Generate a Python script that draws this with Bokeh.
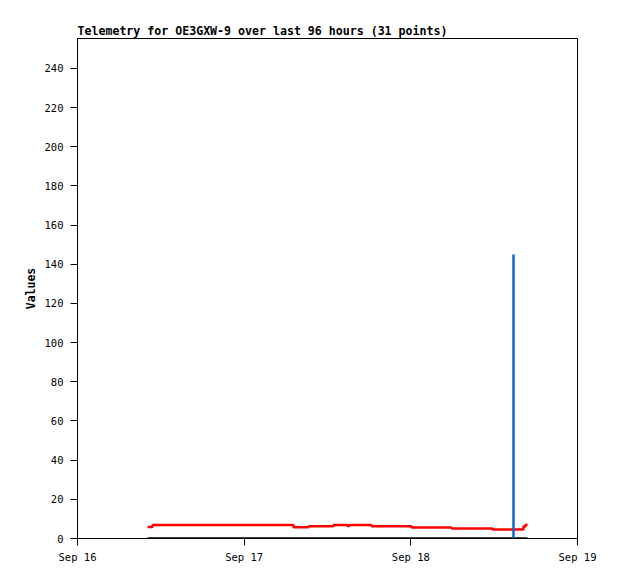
from datetime import datetime
from bokeh.plotting import figure
from bokeh.models import FixedTicker, DatetimeTickFormatter, Range1d, ColumnDataSource
from bokeh.embed import file_html
from bokeh.resources import INLINE

TITLE = "Telemetry for OE3GXW-9 over last 96 hours (31 points)"
Y_LABEL = "Values"

times = [
    "2024-09-16 10:05", "2024-09-16 10:48", "2024-09-16 12:40", "2024-09-16 14:32",
    "2024-09-16 16:25", "2024-09-16 18:17", "2024-09-16 20:10", "2024-09-16 22:02",
    "2024-09-16 23:54", "2024-09-17 01:47", "2024-09-17 03:39", "2024-09-17 05:23",
    "2024-09-17 07:06", "2024-09-17 09:16", "2024-09-17 10:59", "2024-09-17 12:52",
    "2024-09-17 14:53", "2024-09-17 15:10", "2024-09-17 16:45", "2024-09-17 18:20",
    "2024-09-17 21:13", "2024-09-18 00:06", "2024-09-18 02:59", "2024-09-18 05:52",
    "2024-09-18 08:44", "2024-09-18 11:46", "2024-09-18 13:55", "2024-09-18 14:47",
    "2024-09-18 16:13", "2024-09-18 16:31", "2024-09-18 16:48",
]
red_values = [
    5.9, 6.9, 6.9, 6.9, 6.9, 6.9, 6.9, 6.9,
    6.9, 6.9, 6.9, 6.9, 5.7, 6.2, 6.2, 6.9,
    6.4, 6.9, 6.9, 6.2, 6.2, 5.6, 5.6, 5.1,
    5.1, 4.6, 4.6, 4.6, 6.1, 7.0, 7.0,
]
black_values = [
    0, 0, 0, 0, 0, 0, 0, 0, 0, 0, 0, 0, 0, 0, 0, 0,
    0, 0, 0, 0, 0, 0, 0, 0, 0, 0, 0, 0, 0, 0, 0,
]
spike_time = "2024-09-18 14:47"
spike_base = 0
spike_value = 145

day_ticks = ["2024-09-16", "2024-09-17", "2024-09-18", "2024-09-19"]
y_ticks = [0, 20, 40, 60, 80, 100, 120, 140, 160, 180, 200, 220, 240]
y_max = 255.3


def to_dt(s):
    fmt = "%Y-%m-%d %H:%M" if " " in s else "%Y-%m-%d"
    return datetime.strptime(s, fmt)


def to_ms(d):
    return (d - datetime(1970, 1, 1)).total_seconds() * 1000.0


t = [to_dt(s) for s in times]
src = ColumnDataSource(dict(t=t, red=red_values, black=black_values))

x0 = to_dt(day_ticks[0])
x1 = to_dt(day_ticks[-1])

p = figure(
    width=618, height=579,
    x_axis_type="datetime",
    x_range=Range1d(x0, x1),
    y_range=Range1d(0, y_max),
    output_backend="svg",
    toolbar_location=None,
    min_border_left=77, min_border_right=41,
    min_border_top=38, min_border_bottom=41,
)

p.title.text = TITLE
p.title.text_font = "DejaVu Sans Mono"
p.title.text_font_size = "11.6px"
p.title.text_font_style = "bold"
p.title.text_color = "black"
p.title.align = "left"
p.title.offset = 0
p.title.standoff = 2

p.xgrid.visible = False
p.ygrid.visible = False
p.outline_line_color = "black"
p.outline_line_width = 1

p.xaxis.ticker = FixedTicker(ticks=[to_ms(to_dt(s)) for s in day_ticks])
fmt = "%b %d"
p.xaxis.formatter = DatetimeTickFormatter(
    microseconds=fmt, milliseconds=fmt, seconds=fmt, minsec=fmt, minutes=fmt,
    hourmin=fmt, hours=fmt, days=fmt, months=fmt, years=fmt,
)
p.yaxis.ticker = FixedTicker(ticks=y_ticks)
p.yaxis.axis_label = Y_LABEL

for ax in (p.xaxis, p.yaxis):
    ax.axis_line_color = "black"
    ax.major_tick_line_color = "black"
    ax.minor_tick_line_color = None
    ax.major_tick_out = 7
    ax.major_tick_in = 0
    ax.major_label_text_font = "DejaVu Sans Mono"
    ax.major_label_text_font_size = "10.5px"
    ax.major_label_text_color = "black"
    ax.axis_label_text_font = "DejaVu Sans Mono"
    ax.axis_label_text_font_size = "11.5px"
    ax.axis_label_text_font_style = "bold"
    ax.axis_label_text_color = "black"

p.xaxis.major_label_standoff = 5
p.yaxis.major_label_standoff = 7
p.yaxis.axis_label_standoff = 4

p.step("t", "black", source=src, mode="after", line_color="black", line_width=2.5)
p.step("t", "red", source=src, mode="after", line_color="#ff0000", line_width=2.5)
p.segment(x0=[to_dt(spike_time)], y0=[spike_base], x1=[to_dt(spike_time)], y1=[spike_value],
          line_color="#0f66cc", line_width=2.5)

open("out.html", "w").write(file_html(p, INLINE))
